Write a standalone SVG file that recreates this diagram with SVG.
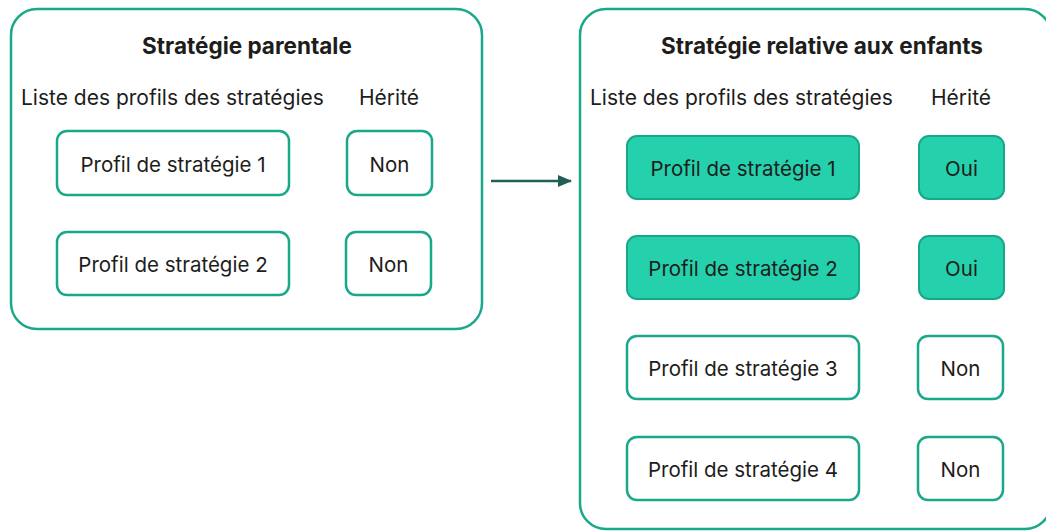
<svg xmlns="http://www.w3.org/2000/svg" width="1046" height="531" viewBox="0 0 1046 531">
<defs>
<style>
.frame{fill:#fff;stroke:#1aa88b;stroke-width:2.5}
.box{fill:#fff;stroke:#1aa88b;stroke-width:2.5}
.on{fill:#25d0ad;stroke:#17a88a;stroke-width:2}
.t{font-family:Inter,"Noto Sans",sans-serif;font-size:20.5px;fill:#1d1d1b;text-anchor:middle;dominant-baseline:central}
.h{font-family:Inter,"Noto Sans",sans-serif;font-size:22.5px;font-weight:bold;fill:#1d1d1b;text-anchor:middle}
.l{font-family:Inter,"Noto Sans",sans-serif;font-size:21px;fill:#1d1d1b}
</style>
<marker id="ah" markerWidth="14" markerHeight="12" refX="13" refY="6" orient="auto" markerUnits="userSpaceOnUse">
<path d="M0,0 L14,6 L0,12 Z" fill="#1f5f55"/>
</marker>
</defs>
<rect width="1046" height="531" fill="#fff"/>
<g id="parent">
<rect class="frame" x="11" y="9" width="471" height="320" rx="26"/>
<text class="h" x="247" y="54">Stratégie parentale</text>
<text class="l" x="21" y="105">Liste des profils des stratégies</text>
<text class="l" x="359" y="105">Hérité</text>
</g>
<g id="p-profil1"><rect class="box" x="57" y="131" width="232" height="64" rx="10"/><text class="t" x="173" y="164">Profil de stratégie 1</text></g>
<g id="p-herite1"><rect class="box" x="347" y="131" width="85" height="64" rx="10"/><text class="t" x="389.5" y="164">Non</text></g>
<g id="p-profil2"><rect class="box" x="57" y="232" width="232" height="63" rx="10"/><text class="t" x="173" y="264">Profil de stratégie 2</text></g>
<g id="p-herite2"><rect class="box" x="346" y="232" width="85" height="63" rx="10"/><text class="t" x="388.5" y="264">Non</text></g>
<g id="child">
<rect class="frame" x="580" y="9" width="471" height="520" rx="26"/>
<text class="h" x="822" y="54">Stratégie relative aux enfants</text>
<text class="l" x="590" y="105">Liste des profils des stratégies</text>
<text class="l" x="931" y="105">Hérité</text>
</g>
<g id="c-profil1"><rect class="on" x="627" y="136" width="232" height="63" rx="10"/><text class="t" x="743" y="168">Profil de stratégie 1</text></g>
<g id="c-herite1"><rect class="on" x="919" y="136" width="85" height="63" rx="10"/><text class="t" x="961.5" y="168">Oui</text></g>
<g id="c-profil2"><rect class="on" x="627" y="236" width="232" height="63" rx="10"/><text class="t" x="743" y="268">Profil de stratégie 2</text></g>
<g id="c-herite2"><rect class="on" x="919" y="236" width="85" height="63" rx="10"/><text class="t" x="961.5" y="268">Oui</text></g>
<g id="c-profil3"><rect class="box" x="627" y="336" width="232" height="63" rx="10"/><text class="t" x="743" y="368">Profil de stratégie 3</text></g>
<g id="c-herite3"><rect class="box" x="918" y="336" width="85" height="63" rx="10"/><text class="t" x="960.5" y="368">Non</text></g>
<g id="c-profil4"><rect class="box" x="627" y="437" width="232" height="63" rx="10"/><text class="t" x="743" y="469">Profil de stratégie 4</text></g>
<g id="c-herite4"><rect class="box" x="918" y="437" width="85" height="63" rx="10"/><text class="t" x="960.5" y="469">Non</text></g>
<g id="connectors">
<line x1="491" y1="181" x2="571" y2="181" stroke="#1f5f55" stroke-width="2.5" marker-end="url(#ah)"/>
</g>
</svg>
